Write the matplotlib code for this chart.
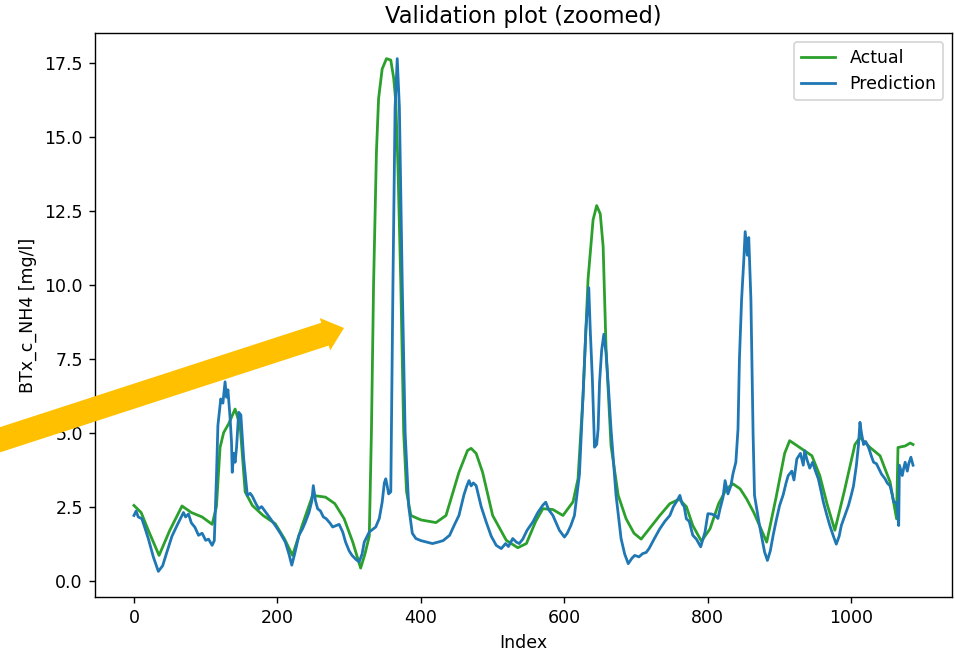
"""
Validation plot (zoomed): actual vs predicted BTx_c_NH4 over the sample index.
"""

import numpy as np
import matplotlib.pyplot as plt
from matplotlib.patches import Polygon

# Actual series
actual_idx = [0, 10, 20, 35, 50, 67, 80, 95, 109, 115, 120, 125, 132, 141, 148, 155, 165, 180,
              197, 210, 221, 235, 249, 267, 280, 293, 305, 316, 322, 328, 331, 334, 338, 341,
              346, 352, 358, 362, 365, 368, 372, 376, 380, 386, 400, 421, 435, 453, 465, 470,
              477, 486, 500, 519, 535, 547, 560, 570, 584, 598, 612, 619, 626, 633, 640, 645,
              650, 654, 658, 665, 675, 686, 697, 707, 720, 733, 747, 760, 770, 779, 791, 803,
              815, 826, 835, 845, 854, 864, 872, 882, 895, 907, 914, 928, 945, 956, 966, 977,
              990, 1005, 1012, 1026, 1040, 1054, 1063, 1065, 1075, 1082, 1086]
actual_val = [2.54, 2.3, 1.7, 0.85, 1.7, 2.52, 2.3, 2.15, 1.9, 2.5, 4.5, 5.0, 5.3, 5.8, 5.24,
              3.0, 2.54, 2.2, 1.92, 1.4, 0.85, 1.9, 2.88, 2.82, 2.6, 2.09, 1.3, 0.42, 0.9, 1.5,
              5.0, 10.0, 14.5, 16.3, 17.3, 17.65, 17.6, 17.0, 16.2, 14.0, 10.0, 5.0, 3.0, 2.2,
              2.05, 1.96, 2.2, 3.66, 4.4, 4.47, 4.3, 3.66, 2.2, 1.36, 1.11, 1.25, 2.0, 2.43,
              2.4, 2.2, 2.66, 3.44, 6.25, 10.2, 12.2, 12.68, 12.4, 11.3, 7.9, 4.56, 2.88, 2.09,
              1.6, 1.4, 1.8, 2.2, 2.6, 2.75, 2.5, 1.86, 1.33, 1.75, 2.6, 3.1, 3.27, 3.1, 2.76,
              2.3, 1.86, 1.3, 2.8, 4.3, 4.73, 4.5, 4.22, 3.55, 2.6, 1.7, 3.0, 4.6, 4.84, 4.5,
              4.22, 3.33, 2.09, 4.5, 4.55, 4.65, 4.6]

# Prediction series
pred_idx = [0, 3, 6, 11, 15, 20, 27, 34, 40, 46, 53, 60, 65, 69, 72, 76, 80, 85, 90, 95, 100,
            104, 109, 112, 115, 117, 121, 124, 127, 129, 131, 134, 136, 137, 139, 141, 143, 146,
            149, 153, 158, 162, 165, 170, 174, 178, 184, 190, 197, 204, 211, 216, 220, 224, 230,
            235, 239, 244, 248, 250, 253, 256, 260, 264, 268, 273, 277, 281, 286, 291, 295, 300,
            304, 310, 314, 318, 321, 328, 337, 342, 346, 349, 351, 353, 355, 358, 361, 364, 367,
            370, 374, 378, 383, 388, 393, 400, 408, 416, 424, 431, 440, 447, 453, 460, 464, 467,
            470, 473, 477, 484, 491, 498, 505, 512, 518, 522, 528, 533, 537, 542, 548, 556, 563,
            570, 574, 578, 584, 588, 593, 600, 604, 609, 614, 617, 621, 626, 630, 634, 636, 639,
            642, 645, 647, 649, 652, 655, 658, 662, 665, 672, 679, 684, 689, 694, 698, 704, 709,
            714, 718, 725, 733, 740, 747, 752, 757, 761, 764, 767, 770, 774, 779, 784, 790, 796,
            800, 805, 810, 814, 817, 821, 824, 828, 832, 835, 839, 842, 844, 847, 850, 852, 855,
            857, 860, 863, 865, 872, 879, 883, 887, 891, 895, 900, 905, 909, 912, 917, 920, 924,
            929, 933, 935, 938, 942, 946, 950, 954, 958, 961, 966, 970, 975, 979, 983, 986, 991,
            996, 1000, 1003, 1007, 1010, 1012, 1014, 1017, 1020, 1024, 1028, 1031, 1035, 1038,
            1042, 1047, 1050, 1054, 1057, 1059, 1063, 1066, 1067, 1071, 1073, 1075, 1078, 1080,
            1083, 1086]
pred_val = [2.2, 2.35, 2.15, 2.09, 1.8, 1.42, 0.8, 0.31, 0.5, 0.97, 1.5, 1.86, 2.1, 2.3, 2.15,
            2.25, 1.95, 1.8, 1.53, 1.6, 1.36, 1.4, 1.19, 1.35, 3.5, 5.24, 6.14, 6.0, 6.72, 6.2,
            6.45, 5.5, 4.68, 3.66, 4.3, 4.0, 4.5, 5.69, 5.6, 4.11, 2.88, 2.95, 2.85, 2.6, 2.43,
            2.5, 2.3, 2.1, 1.86, 1.6, 1.3, 0.9, 0.52, 0.9, 1.53, 1.75, 1.98, 2.3, 2.7, 3.21, 2.7,
            2.43, 2.35, 2.15, 2.09, 1.95, 1.81, 1.85, 1.9, 1.64, 1.3, 1.0, 0.85, 0.7, 0.63, 0.9,
            1.3, 1.64, 1.81, 2.1, 2.65, 3.3, 3.44, 3.2, 2.93, 3.0, 10.0, 16.0, 17.65, 16.0, 10.0,
            5.0, 2.5, 1.6, 1.42, 1.35, 1.3, 1.25, 1.3, 1.35, 1.53, 1.9, 2.2, 2.9, 3.2, 3.38, 3.2,
            3.3, 3.21, 2.5, 1.98, 1.5, 1.19, 1.08, 1.25, 1.15, 1.42, 1.3, 1.25, 1.4, 1.7, 1.98,
            2.3, 2.55, 2.65, 2.4, 2.2, 1.98, 1.7, 1.47, 1.6, 1.86, 2.2, 2.8, 3.6, 6.25, 8.5, 9.9,
            8.5, 6.81, 4.51, 4.6, 5.12, 6.7, 7.8, 8.33, 7.7, 6.3, 5.12, 2.88, 1.42, 0.9, 0.57,
            0.75, 0.85, 0.8, 0.91, 0.95, 1.08, 1.4, 1.75, 2.0, 2.2, 2.5, 2.7, 2.88, 2.6, 2.5,
            2.09, 2.0, 1.53, 1.4, 1.14, 1.64, 2.26, 2.25, 2.2, 2.1, 2.43, 2.8, 3.38, 2.93, 3.2,
            3.61, 4.0, 5.12, 7.5, 9.5, 10.8, 11.8, 11.0, 11.6, 9.5, 5.0, 2.88, 1.86, 0.97, 0.68,
            1.0, 1.53, 2.0, 2.54, 2.9, 3.3, 3.55, 3.7, 3.4, 4.11, 4.3, 3.9, 4.39, 4.1, 3.8, 4.0,
            3.7, 3.44, 3.0, 2.65, 2.2, 1.86, 1.5, 1.23, 1.5, 1.86, 2.2, 2.54, 2.9, 3.2, 3.89,
            4.6, 5.35, 5.0, 4.6, 4.7, 4.5, 4.2, 4.0, 3.95, 3.8, 3.6, 3.44, 3.3, 3.2, 2.9, 2.65,
            2.65, 1.86, 3.9, 3.55, 3.8, 4.0, 3.7, 3.95, 4.17, 3.9]

W, H, DPI = 955, 653, 125


def add_callout_arrow(fig, tail, tip, shaft=24, head_w=34, head_len=20, color="#FFC000"):
    """Thick annotation arrow drawn on top of the figure, given in figure pixels (y down)."""
    tail = np.array(tail, dtype=float)
    tip = np.array(tip, dtype=float)
    d = (tip - tail) / np.linalg.norm(tip - tail)
    n = np.array([-d[1], d[0]])
    base = tip - d * head_len
    pts = [
        tail + n * shaft / 2,
        base + n * shaft / 2,
        base + n * head_w / 2,
        tip,
        base - n * head_w / 2,
        base - n * shaft / 2,
        tail - n * shaft / 2,
    ]
    # pixels -> figure fraction
    pts = [(p[0] / W, 1 - p[1] / H) for p in pts]
    fig.patches.append(Polygon(pts, closed=True, facecolor=color, edgecolor="none",
                               transform=fig.transFigure, figure=fig, zorder=10))


fig = plt.figure(figsize=(W / DPI, H / DPI), dpi=DPI)
ax = fig.add_axes([95 / W, 1 - 597 / H, (952 - 95) / W, (597 - 33) / H])

ax.plot(actual_idx, actual_val, color="tab:green", linewidth=1.6, label="Actual")
ax.plot(pred_idx, pred_val, color="tab:blue", linewidth=1.6, label="Prediction")

ax.set_title("Validation plot (zoomed)", fontsize=13)
ax.set_xlabel("Index")
ax.set_ylabel("BTx_c_NH4 [mg/l]")
ax.legend(loc="upper right")

add_callout_arrow(fig, tail=(-10, 443), tip=(344, 328))

fig.savefig("out.png", dpi=DPI)
